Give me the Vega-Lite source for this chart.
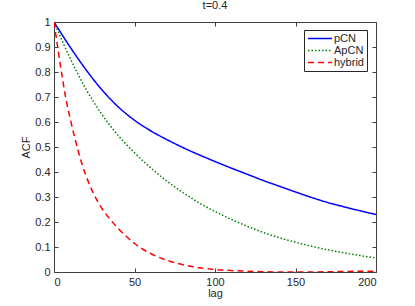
{
  "$schema": "https://vega.github.io/schema/vega-lite/v6.json",
  "width": 322,
  "height": 250,
  "autosize": {"type": "none"},
  "padding": {"left": 54, "top": 22, "right": 39, "bottom": 34},
  "background": "white",
  "title": {"text": "t=0.4", "fontSize": 11, "fontWeight": "normal", "font": "Liberation Sans", "color": "#262626", "offset": 5},
  "config": {
    "view": {"stroke": "#404040", "strokeWidth": 1},
    "font": "Liberation Sans",
    "axis": {"grid": false, "domain": false, "tickColor": "#404040", "tickSize": -4, "labelFontSize": 11, "labelColor": "#262626", "titleColor": "#262626", "titleFontSize": 11, "titleFontWeight": "normal", "labelFont": "Liberation Sans", "titleFont": "Liberation Sans"},
    "legend": {"labelFont": "Liberation Sans", "strokeColor": "#262626", "fillColor": "white", "strokeWidth": 1}
  },
  "datasets": {
    "acf": [
      {"lag": 0, "acf": 1, "method": "pCN"},
      {"lag": 10, "acf": 0.9, "method": "pCN"},
      {"lag": 20, "acf": 0.808, "method": "pCN"},
      {"lag": 30, "acf": 0.727, "method": "pCN"},
      {"lag": 40, "acf": 0.66, "method": "pCN"},
      {"lag": 50, "acf": 0.607, "method": "pCN"},
      {"lag": 60, "acf": 0.565, "method": "pCN"},
      {"lag": 70, "acf": 0.53, "method": "pCN"},
      {"lag": 80, "acf": 0.498, "method": "pCN"},
      {"lag": 90, "acf": 0.469, "method": "pCN"},
      {"lag": 100, "acf": 0.442, "method": "pCN"},
      {"lag": 110, "acf": 0.416, "method": "pCN"},
      {"lag": 120, "acf": 0.391, "method": "pCN"},
      {"lag": 130, "acf": 0.366, "method": "pCN"},
      {"lag": 140, "acf": 0.343, "method": "pCN"},
      {"lag": 150, "acf": 0.32, "method": "pCN"},
      {"lag": 160, "acf": 0.298, "method": "pCN"},
      {"lag": 170, "acf": 0.278, "method": "pCN"},
      {"lag": 180, "acf": 0.261, "method": "pCN"},
      {"lag": 190, "acf": 0.245, "method": "pCN"},
      {"lag": 200, "acf": 0.23, "method": "pCN"},
      {"lag": 0, "acf": 1, "method": "ApCN"},
      {"lag": 10, "acf": 0.855, "method": "ApCN"},
      {"lag": 20, "acf": 0.73, "method": "ApCN"},
      {"lag": 30, "acf": 0.628, "method": "ApCN"},
      {"lag": 40, "acf": 0.545, "method": "ApCN"},
      {"lag": 50, "acf": 0.477, "method": "ApCN"},
      {"lag": 60, "acf": 0.417, "method": "ApCN"},
      {"lag": 70, "acf": 0.364, "method": "ApCN"},
      {"lag": 80, "acf": 0.318, "method": "ApCN"},
      {"lag": 90, "acf": 0.277, "method": "ApCN"},
      {"lag": 100, "acf": 0.242, "method": "ApCN"},
      {"lag": 110, "acf": 0.211, "method": "ApCN"},
      {"lag": 120, "acf": 0.183, "method": "ApCN"},
      {"lag": 130, "acf": 0.158, "method": "ApCN"},
      {"lag": 140, "acf": 0.137, "method": "ApCN"},
      {"lag": 150, "acf": 0.119, "method": "ApCN"},
      {"lag": 160, "acf": 0.103, "method": "ApCN"},
      {"lag": 170, "acf": 0.089, "method": "ApCN"},
      {"lag": 180, "acf": 0.077, "method": "ApCN"},
      {"lag": 190, "acf": 0.066, "method": "ApCN"},
      {"lag": 200, "acf": 0.056, "method": "ApCN"},
      {"lag": 0, "acf": 1, "method": "hybrid"},
      {"lag": 2.5, "acf": 0.89, "method": "hybrid"},
      {"lag": 5, "acf": 0.785, "method": "hybrid"},
      {"lag": 7.5, "acf": 0.69, "method": "hybrid"},
      {"lag": 10, "acf": 0.615, "method": "hybrid"},
      {"lag": 12.5, "acf": 0.547, "method": "hybrid"},
      {"lag": 15, "acf": 0.485, "method": "hybrid"},
      {"lag": 17.5, "acf": 0.43, "method": "hybrid"},
      {"lag": 20, "acf": 0.383, "method": "hybrid"},
      {"lag": 25, "acf": 0.308, "method": "hybrid"},
      {"lag": 30, "acf": 0.252, "method": "hybrid"},
      {"lag": 35, "acf": 0.21, "method": "hybrid"},
      {"lag": 40, "acf": 0.173, "method": "hybrid"},
      {"lag": 45, "acf": 0.142, "method": "hybrid"},
      {"lag": 50, "acf": 0.114, "method": "hybrid"},
      {"lag": 55, "acf": 0.092, "method": "hybrid"},
      {"lag": 60, "acf": 0.074, "method": "hybrid"},
      {"lag": 65, "acf": 0.059, "method": "hybrid"},
      {"lag": 70, "acf": 0.047, "method": "hybrid"},
      {"lag": 80, "acf": 0.029, "method": "hybrid"},
      {"lag": 90, "acf": 0.017, "method": "hybrid"},
      {"lag": 100, "acf": 0.01, "method": "hybrid"},
      {"lag": 110, "acf": 0.006, "method": "hybrid"},
      {"lag": 120, "acf": 0.003, "method": "hybrid"},
      {"lag": 130, "acf": 0.001, "method": "hybrid"},
      {"lag": 140, "acf": 0, "method": "hybrid"},
      {"lag": 150, "acf": 0, "method": "hybrid"},
      {"lag": 160, "acf": 0, "method": "hybrid"},
      {"lag": 170, "acf": 0.001, "method": "hybrid"},
      {"lag": 180, "acf": 0.002, "method": "hybrid"},
      {"lag": 190, "acf": 0.003, "method": "hybrid"},
      {"lag": 200, "acf": 0.003, "method": "hybrid"}
    ]
  },
  "data": {"name": "acf"},
  "layer": [
    {
      "mark": {"type": "line", "strokeWidth": 1.5, "interpolate": "monotone", "clip": true},
      "encoding": {
        "x": {"field": "lag", "type": "quantitative", "scale": {"domain": [0, 200], "nice": false},
              "axis": {"values": [0, 50, 100, 150, 200], "title": "lag", "labelPadding": 8, "titlePadding": 0}},
        "y": {"field": "acf", "type": "quantitative", "scale": {"domain": [0, 1], "nice": false},
              "axis": {"values": [0, 0.1, 0.2, 0.3, 0.4, 0.5, 0.6, 0.7, 0.8, 0.9, 1], "format": "~g", "title": "ACF", "labelPadding": 8, "titlePadding": 3}},
        "color": {"field": "method", "type": "nominal",
                  "scale": {"domain": ["pCN", "ApCN", "hybrid"], "range": ["#0000ff", "#008000", "#ff0000"]},
                  "legend": {"title": null, "orient": "none", "legendX": 250, "legendY": 8, "symbolType": "stroke", "symbolSize": 576, "symbolStrokeWidth": 1.5, "clipHeight": 11, "labelFontSize": 11, "labelColor": "#262626", "labelOffset": 1, "rowPadding": 0, "padding": 3, "strokeColor": "#262626", "fillColor": "white"}},
        "strokeDash": {"field": "method", "type": "nominal",
                       "scale": {"domain": ["pCN", "ApCN", "hybrid"], "range": [[1, 0], [1.5, 2], [6, 4]]},
                       "legend": {"title": null, "orient": "none", "legendX": 250, "legendY": 8, "symbolType": "stroke", "symbolSize": 576, "symbolStrokeWidth": 1.5, "clipHeight": 11, "labelFontSize": 11, "labelColor": "#262626", "labelOffset": 1, "rowPadding": 0, "padding": 3, "strokeColor": "#262626", "fillColor": "white"}}
      }
    },
    {
      "mark": {"type": "point", "opacity": 0},
      "encoding": {
        "x": {"field": "lag", "type": "quantitative", "scale": {"domain": [0, 200], "nice": false},
              "axis": {"orient": "top", "values": [0, 50, 100, 150, 200], "labels": false, "title": null}},
        "y": {"field": "acf", "type": "quantitative", "scale": {"domain": [0, 1], "nice": false},
              "axis": {"orient": "right", "values": [0, 0.1, 0.2, 0.3, 0.4, 0.5, 0.6, 0.7, 0.8, 0.9, 1], "labels": false, "title": null}}
      }
    }
  ],
  "resolve": {"axis": {"x": "independent", "y": "independent"}}
}
